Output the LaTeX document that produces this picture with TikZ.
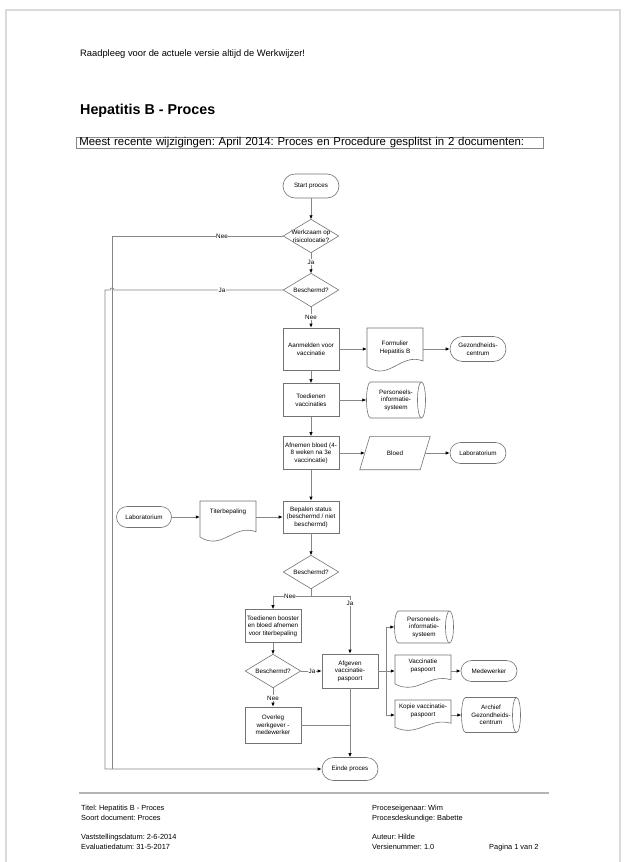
\documentclass[tikz,border=0pt]{standalone}
\usepackage{fontspec}
\setmainfont{Liberation Sans}
\usetikzlibrary{arrows.meta,calc}
\frenchspacing
\definecolor{lgray}{RGB}{135,135,135}
\definecolor{sgray}{RGB}{115,115,115}
\definecolor{pgray}{RGB}{218,218,218}
\definecolor{fgray}{RGB}{180,180,180}
\newcommand\fcdoc[4]{%
  \pgfmathsetmacro\fcxa{-(#2)}%
  \pgfmathsetmacro\fcxb{#2}%
  \pgfmathsetmacro\fcyt{#3}%
  \pgfmathsetmacro\fcyr{-(#4)+0.25*((#3)+(#4))}%
  \pgfmathsetmacro\fcyl{-(#4)+0.12*((#3)+(#4))}%
  \pgfmathsetmacro\fcax{0.2*(#2)}%
  \pgfmathsetmacro\fcay{-(#4)+0.45*((#3)+(#4))}%
  \pgfmathsetmacro\fcbx{-0.2*(#2)}%
  \pgfmathsetmacro\fcby{-(#4)-0.22*((#3)+(#4))}%
  \draw[shp] ([shift={(\fcxa pt,\fcyt pt)}]#1.center) -- ([shift={(\fcxb pt,\fcyt pt)}]#1.center) -- ([shift={(\fcxb pt,\fcyr pt)}]#1.center) .. controls ([shift={(\fcax pt,\fcay pt)}]#1.center) and ([shift={(\fcbx pt,\fcby pt)}]#1.center) .. ([shift={(\fcxa pt,\fcyl pt)}]#1.center) -- cycle;%
}
\newcommand\fccyl[3]{%
  \pgfmathsetmacro\fcxa{-(#2)+4}%
  \pgfmathsetmacro\fcxb{(#2)-4}%
  \draw[shp] ([shift={(\fcxa pt,#3pt)}]#1.center) -- ([shift={(\fcxb pt,#3pt)}]#1.center) arc[start angle=90,end angle=-90,x radius=4pt,y radius=#3pt] -- ([shift={(\fcxa pt,-#3pt)}]#1.center) arc[start angle=270,end angle=90,x radius=4pt,y radius=#3pt] -- cycle;%
  \draw[shp] ([shift={(\fcxb pt,#3pt)}]#1.center) arc[start angle=90,end angle=270,x radius=4pt,y radius=#3pt];%
}
\newcommand\fcdia[1]{\draw[shp] (#1.north) -- (#1.east) -- (#1.south) -- (#1.west) -- cycle;}
\tikzset{
  shp/.style={draw=sgray, line width=0.6pt},
  fc/.style={font=\fontsize{6.3}{7.5}\selectfont, align=center, inner sep=1pt},
  box/.style={fc, shp, minimum width=56pt},
  term/.style={fc, shp, minimum width=56pt, minimum height=22pt, rounded corners=11pt},
  bare/.style={fc, minimum width=56pt},
  cyln/.style={fc, minimum width=59pt},
  dia/.style={fc, minimum width=55pt, minimum height=33pt, inner sep=0pt},
  flow/.style={draw=lgray, line width=0.7pt},
  arr/.style={flow, -{Latex[length=4pt,width=3.4pt,color=black]}},
  lbl/.style={font=\fontsize{6.3}{7.5}\selectfont, fill=white, inner sep=0.6pt},
  foot/.style={anchor=base west, inner sep=0pt, font=\fontsize{7.4}{9}\selectfont},
}
\begin{document}
\begin{tikzpicture}[x=1pt,y=-1pt]
\useasboundingbox (0,0) rectangle (627,862);
\fill[white] (0,0) rectangle (627,862);
\draw[pgray, line width=1.5pt] (6,10) rectangle (620,900);

% header
\node[anchor=west, inner sep=0pt, font=\fontsize{9.35}{11}\selectfont] (hdr) at (80,54) {Raadpleeg voor de actuele versie altijd de Werkwijzer!};
\node[anchor=west, inner sep=0pt, font=\bfseries\fontsize{14.3}{17}\selectfont] (ttl) at (80,111) {Hepatitis B - Proces};
\node[anchor=west, draw=lgray, line width=0.7pt, inner xsep=3pt, inner ysep=0pt, text width=461pt, align=left, font=\fontsize{11.4}{12.4}\selectfont] (chg) at (76,143) {Meest recente wijzigingen: April 2014: Proces en Procedure gesplitst in 2 documenten:};

% flowchart nodes
\node[term, minimum height=24pt, rounded corners=12pt] (start) at (311,186) {Start proces};
\node[dia] (d1) at (311,236) {Werkzaam op\\risicolocatie?};
\node[dia] (d2) at (311,290) {Beschermd?};
\node[box, minimum height=42pt] (aanm) at (311,349) {Aanmelden voor\\vaccinatie};
\node[bare] (form) at (395,348) {Formulier\\Hepatitis B};
\node[term, minimum height=25pt, rounded corners=12.5pt] (gez) at (478,349) {Gezondheids-\\centrum};
\node[box, minimum height=33pt] (toed) at (311,400) {Toedienen\\vaccinaties};
\node[cyln] (pers1) at (396,400) {Personeels-\\informatie-\\systeem};
\node[box, minimum height=33pt] (afn) at (311,453) {Afnemen bloed (4-\\8 weken na 3e\\vaccincatie)};
\node[fc, minimum width=70pt, minimum height=33pt] (bloed) at (395,453) {Bloed};
\node[term, minimum height=21pt, rounded corners=10.5pt] (lab1) at (478,453) {Laboratorium};
\node[term, minimum height=21pt, rounded corners=10.5pt, minimum width=55pt] (lab2) at (144,517) {Laboratorium};
\node[bare] (titer) at (228,512) {Titerbepaling};
\node[box, minimum height=32pt] (bep) at (311,517) {Bepalen status\\(beschermd / niet\\beschermd)};
\node[dia] (d3) at (311,572) {Beschermd?};
\node[box, minimum height=33pt] (boost) at (273,626) {Toedienen booster\\en bloed afnemen\\voor titerbepaling};
\node[dia] (d4) at (273,671) {Beschermd?};
\node[box, minimum height=34pt] (afg) at (350,671) {Afgeven\\vaccinatie-\\paspoort};
\node[box, minimum height=36pt] (overleg) at (273,725) {Overleg\\werkgever -\\medewerker};
\node[term, minimum height=23pt, rounded corners=11.5pt] (eind) at (350,769) {Einde proces};
\node[cyln] (pers2) at (424,627) {Personeels-\\informatie-\\systeem};
\node[bare] (vpas) at (423,666) {Vaccinatie\\paspoort};
\node[term, minimum height=21pt, rounded corners=10.5pt] (med) at (489,671) {Medewerker};
\node[bare] (kopie) at (423,711) {Kopie vaccinatie-\\paspoort};
\node[cyln] (arch) at (491,715) {Archief\\Gezondheids-\\centrum};

% special outlines
\fcdia{d1}
\fcdia{d2}
\fcdia{d3}
\fcdia{d4}
\fcdoc{form}{28}{20}{24}
\fcdoc{titer}{28}{11}{30}
\fcdoc{vpas}{28}{11}{22}
\fcdoc{kopie}{28}{11}{20}
\fccyl{pers1}{29.5}{18}
\fccyl{pers2}{29.5}{16}
\fccyl{arch}{29.5}{17.5}
\draw[shp] (bloed.south west) -- ([xshift=-10pt]bloed.south east) -- (bloed.north east) -- ([xshift=10pt]bloed.north west) -- cycle;

% helper coordinates
\coordinate (L1) at (112,0);
\coordinate (L2) at (105,0);
\coordinate (m3) at (311,596);
\coordinate (brt) at (386,627);
\coordinate (br) at (386,671);
\coordinate (brb) at (386,715);

% connectors
\draw[arr] (start.south) -- (d1.north);
\draw[arr] (d1.south) -- (d2.north);
\draw[flow] (d1.west) -| (L1 |- eind.west);
\draw[arr] (d2.west) -- ([xshift=2pt]d2.west -| L1) arc[start angle=0,end angle=180,radius=2pt] -- (d2.west -| L2) |- (eind.west);
\draw[arr] (d2.south) -- (aanm.north);
\draw[arr] (aanm.east) -- (aanm.east -| form.west);
\draw[arr] (aanm.east -| form.east) -- (gez.west);
\draw[arr] (aanm.south) -- (toed.north);
\draw[arr] (toed.east) -- (pers1.west);
\draw[arr] (toed.south) -- (afn.north);
\draw[arr] (afn.east) -- ([xshift=5pt]bloed.west);
\draw[arr] ([xshift=-5pt]bloed.east) -- (lab1.west);
\draw[arr] (afn.south) -- (bep.north);
\draw[arr] (lab2.east) -- (lab2.east -| titer.west);
\draw[arr] (lab2.east -| titer.east) -- (bep.west);
\draw[arr] (bep.south) -- (d3.north);
\draw[arr] (d3.south) -- (m3) -| (boost.north);
\draw[arr] (m3) -| (afg.north);
\draw[arr] (boost.south) -- (d4.north);
\draw[arr] (d4.east) -- (afg.west);
\draw[arr] (d4.south) -- (overleg.north);
\draw[flow] (overleg.east) -- (overleg.east -| afg.south);
\draw[arr] (afg.south) -- (eind.north);
\draw[flow] (afg.east) -- (br);
\draw[flow] (brt) -- (brb);
\draw[arr] (brt) -- (brt -| pers2.west);
\draw[arr] (br) -- (br -| vpas.west);
\draw[arr] (brb) -- (brb -| kopie.west);
\draw[arr] (br -| vpas.east) -- (med.west);
\draw[arr] (brb -| kopie.east) -- (arch.west);

% connector labels
\node[lbl] (n1) at (222,236) {Nee};
\node[lbl] (j1) at (311,262) {Ja};
\node[lbl] (j2) at (222,290) {Ja};
\node[lbl] (n2) at (311,317) {Nee};
\node[lbl] (n3) at (290,596) {Nee};
\node[lbl] (j3) at (350,603) {Ja};
\node[lbl] (j4) at (312,671) {Ja};
\node[lbl] (n4) at (273,698) {Nee};

% footer
\draw[fgray, line width=1.2pt] (79,793) -- (549,793);
\node[foot] (f1) at (81,810.7) {Titel: Hepatitis B - Proces};
\node[foot] (f2) at (81,820.7) {Soort document: Proces};
\node[foot] (f3) at (81,839.7) {Vaststellingsdatum: 2-6-2014};
\node[foot] (f4) at (81,849.7) {Evaluatiedatum: 31-5-2017};
\node[foot] (f5) at (372,810.7) {Proceseigenaar: Wim};
\node[foot] (f6) at (372,820.7) {Procesdeskundige: Babette};
\node[foot] (f7) at (372,839.7) {Auteur: Hilde};
\node[foot] (f8) at (372,849.7) {Versienummer: 1.0};
\node[foot] (f9) at (489,849.7) {Pagina 1 van 2};
\end{tikzpicture}
\end{document}
